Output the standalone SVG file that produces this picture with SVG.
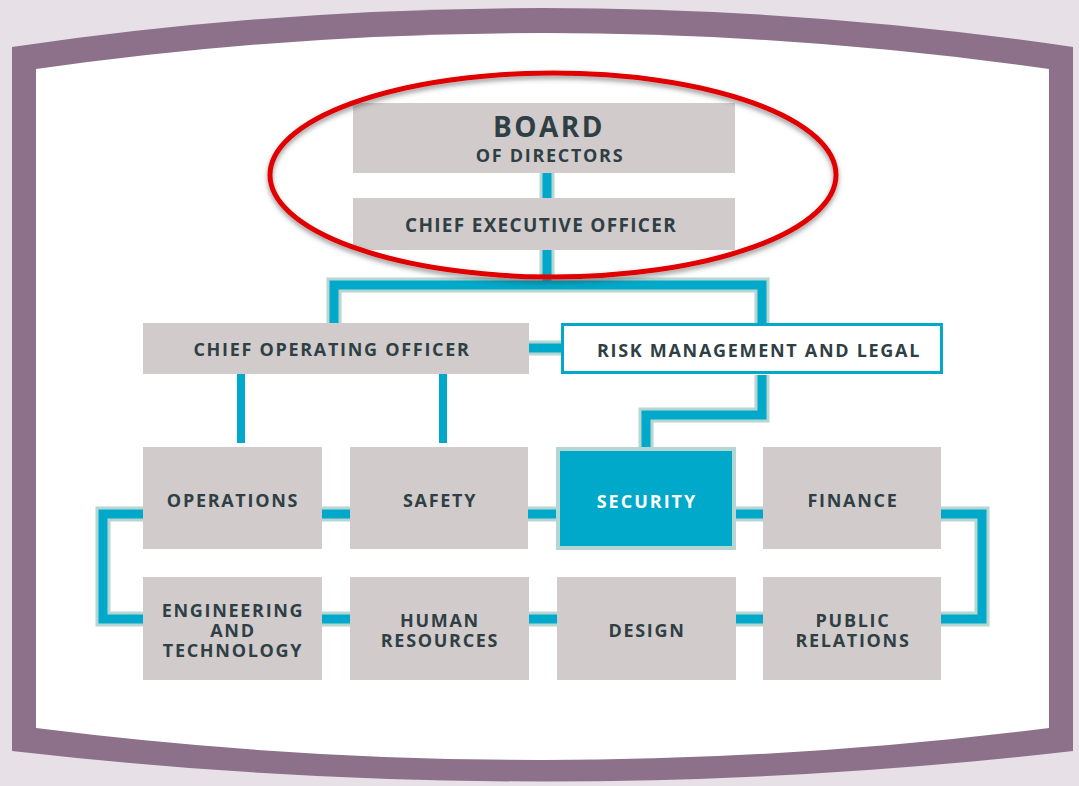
<svg xmlns="http://www.w3.org/2000/svg" width="1079" height="786" viewBox="0 0 1079 786">
<defs>
<style>
.box{fill:#d1cbcc}
.t{font-family:"Open Sans","Liberation Sans",sans-serif;font-weight:700;font-size:18px;letter-spacing:1.7px;fill:#2f3f44;text-anchor:middle}
.halo{fill:none;stroke:#b6d6d3;stroke-width:15;stroke-linejoin:miter}
.blue{fill:none;stroke:#00a8c9;stroke-width:9;stroke-linejoin:miter}
.thin{fill:none;stroke:#00a8c9;stroke-width:8}
</style>
<filter id="sh" x="-10%" y="-10%" width="120%" height="130%">
<feDropShadow dx="0" dy="3" stdDeviation="2.5" flood-color="#404040" flood-opacity="0.55"/>
</filter>
</defs>
<rect x="0" y="0" width="1079" height="786" fill="#e7e1e7"/>
<g id="frame">
<path d="M12,47 Q542,-31 1073,47 L1073,751 Q542,812 12,751 Z" fill="#8d7089"/>
<path d="M36,69 Q542,-3 1049,69 L1049,728 Q542,792 36,728 Z" fill="#ffffff"/>
</g>
<g id="connectors">
<path class="halo" d="M547,173 V198"/>
<path class="blue" d="M547,173 V198"/>
<path class="halo" d="M547,250 V285 M334,323 V285 H762 V323"/>
<path class="blue" d="M547,250 V285 M334,323 V285 H762 V323"/>
<path class="halo" d="M529,348 H561"/>
<path class="blue" d="M529,348 H561"/>
<path class="halo" d="M762,375 V415 H646 V451"/>
<path class="blue" d="M762,375 V415 H646 V451"/>
<path class="thin" d="M241,374 V443 M443,374 V443"/>
<rect class="halo" x="103" y="514" width="879" height="105"/>
<rect class="blue" x="103" y="514" width="879" height="105"/>
</g>
<g id="board">
<rect class="box" x="353" y="103" width="382" height="70"/>
<text class="t" x="549" y="137" style="font-size:28px;letter-spacing:2.5px">BOARD</text>
<text class="t" x="550" y="162">OF DIRECTORS</text>
</g>
<g id="ceo">
<rect class="box" x="353" y="198" width="382" height="52"/>
<text class="t" x="541" y="232" style="font-size:19px;letter-spacing:1.3px">CHIEF EXECUTIVE OFFICER</text>
</g>
<g id="coo">
<rect class="box" x="143" y="323" width="386" height="51"/>
<text class="t" x="332" y="356">CHIEF OPERATING OFFICER</text>
</g>
<g id="risk">
<rect x="562.5" y="324.5" width="379" height="48" fill="#ffffff" stroke="#00a8c9" stroke-width="3"/>
<text class="t" x="759" y="357">RISK MANAGEMENT AND LEGAL</text>
</g>
<g id="operations">
<rect class="box" x="143" y="447" width="179" height="102"/>
<text class="t" x="233" y="507">OPERATIONS</text>
</g>
<g id="safety">
<rect class="box" x="350" y="447" width="178" height="102"/>
<text class="t" x="440" y="507">SAFETY</text>
</g>
<g id="security">
<rect x="558" y="449" width="176" height="99" fill="#00a8c9" stroke="#b6d6d3" stroke-width="4"/>
<text class="t" x="647" y="508" style="fill:#ffffff;letter-spacing:2px">SECURITY</text>
</g>
<g id="finance">
<rect class="box" x="763" y="447" width="178" height="102"/>
<text class="t" x="853" y="507">FINANCE</text>
</g>
<g id="engineering">
<rect class="box" x="143" y="577" width="179" height="103"/>
<text class="t" x="233" y="617"><tspan x="233">ENGINEERING</tspan><tspan x="233" dy="20">AND</tspan><tspan x="233" dy="20">TECHNOLOGY</tspan></text>
</g>
<g id="hr">
<rect class="box" x="350" y="577" width="179" height="103"/>
<text class="t" x="440" y="627"><tspan x="440">HUMAN</tspan><tspan x="440" dy="20">RESOURCES</tspan></text>
</g>
<g id="design">
<rect class="box" x="557" y="577" width="179" height="103"/>
<text class="t" x="647" y="637">DESIGN</text>
</g>
<g id="pr">
<rect class="box" x="763" y="577" width="178" height="103"/>
<text class="t" x="853" y="627"><tspan x="853">PUBLIC</tspan><tspan x="853" dy="20">RELATIONS</tspan></text>
</g>
<g id="highlight">
<ellipse cx="553" cy="175" rx="283" ry="102" fill="none" stroke="#e00000" stroke-width="5" filter="url(#sh)"/>
</g>
</svg>
